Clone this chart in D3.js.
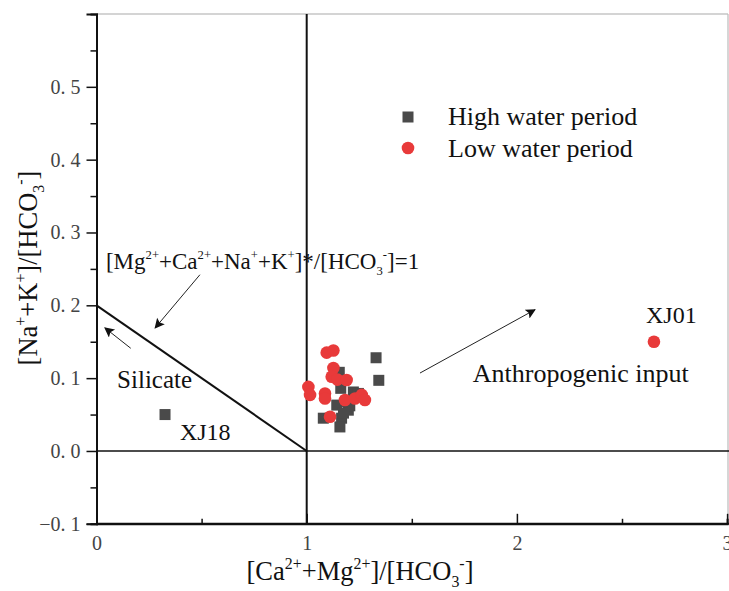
<!DOCTYPE html>
<html><head><meta charset="utf-8">
<script src="https://cdn.jsdelivr.net/npm/d3@7"></script>
<style>html,body{margin:0;padding:0;background:#fff;}svg{display:block;}</style>
</head><body>
<svg id="c" width="729" height="591"></svg>
<script>
// ---- data ----
const xTickValues = [0, 1, 2, 3];
const xMinorValues = [0.5, 1.5, 2.5];
const yTickValues = [-0.1, 0, 0.1, 0.2, 0.3, 0.4, 0.5];
const yMinorValues = [-0.05, 0.05, 0.15, 0.25, 0.35, 0.45, 0.55];
const seriesNames = ["High water period", "Low water period"];
const highX = [0.326, 1.330, 1.343, 1.155, 1.162, 1.222, 1.246, 1.143, 1.198, 1.079, 1.166, 1.158, 1.185, 1.205, 1.175];
const highY = [0.050, 0.128, 0.097, 0.108, 0.086, 0.081, 0.079, 0.063, 0.056, 0.045, 0.045, 0.033, 0.068, 0.062, 0.052];
const lowX = [1.095, 1.127, 1.127, 1.119, 1.146, 1.190, 1.008, 1.016, 1.087, 1.087, 1.182, 1.230, 1.262, 1.277, 1.111, 2.652];
const lowY = [0.135, 0.138, 0.114, 0.102, 0.098, 0.0975, 0.088, 0.077, 0.079, 0.072, 0.070, 0.072, 0.077, 0.070, 0.047, 0.150];
// reference lines: 1:1 line (0,0.2)-(1,0), x=1, y=0
const diagX = [0, 1], diagY = [0.2, 0];

const svg = d3.select("#c");
const FONT = "'Liberation Serif','Times New Roman',serif";
const x = d3.scaleLinear().domain([0, 3]).range([96.5, 727.1]);
const y = d3.scaleLinear().domain([-0.1, 0.6]).range([523.8, 14]);

function rich(g, px, py, parts, size, anchor, rotate, supRatio) {
  const sr = supRatio || 0.6;
  const t = g.append("text").attr("font-family", FONT).attr("font-size", size).attr("fill", "#111")
    .attr("text-anchor", anchor || "start");
  if (rotate) t.attr("transform", `translate(${px},${py}) rotate(${rotate})`);
  else t.attr("x", px).attr("y", py);
  let cur = 0;
  parts.forEach(([s, k]) => {
    const off = k === "sup" ? -0.42 * size : k === "sub" ? 0.28 * size : 0;
    t.append("tspan").attr("dy", off - cur).attr("font-size", k ? size * sr : size).text(s);
    cur = off;
  });
  return t;
}

// frame (top, right)
svg.append("line").attr("x1", x(0)).attr("x2", 728).attr("y1", y(0.6)).attr("y2", y(0.6)).attr("stroke", "#aaa").attr("stroke-width", 1.2);
svg.append("line").attr("x1", 728).attr("x2", 728).attr("y1", y(0.6)).attr("y2", y(-0.1)).attr("stroke", "#bbb").attr("stroke-width", 1.2);

// reference lines
svg.append("line").attr("x1", x(0)).attr("x2", 729).attr("y1", y(0)).attr("y2", y(0)).attr("stroke", "#111").attr("stroke-width", 1.6);
svg.append("line").attr("x1", x(1)).attr("x2", x(1)).attr("y1", y(0.6)).attr("y2", y(-0.1)).attr("stroke", "#111").attr("stroke-width", 2);
svg.append("line").attr("x1", x(diagX[0])).attr("y1", y(diagY[0])).attr("x2", x(diagX[1])).attr("y2", y(diagY[1])).attr("stroke", "#111").attr("stroke-width", 2);

// axes
const fmt = d => (d < 0 ? "\u22120. " : "0. ") + Math.round(Math.abs(d) * 10);
const gy = svg.append("g").attr("transform", `translate(${x(0)},0)`)
  .call(d3.axisLeft(y).tickValues(yTickValues).tickSize(10).tickPadding(6).tickFormat(fmt));
svg.append("g").attr("transform", `translate(${x(0)},0)`)
  .call(d3.axisLeft(y).tickValues(yMinorValues).tickSize(6).tickFormat(""));
const gx = svg.append("g").attr("transform", `translate(0,${y(-0.1)})`)
  .call(d3.axisBottom(x).tickValues(xTickValues).tickSize(-10).tickPadding(12).tickFormat(d3.format("d")));
svg.append("g").attr("transform", `translate(0,${y(-0.1)})`)
  .call(d3.axisBottom(x).tickValues(xMinorValues).tickSize(-5).tickFormat(""));
svg.selectAll(".domain").attr("stroke", "#111").attr("stroke-width", 2);
svg.selectAll(".tick line").attr("stroke", "#111").attr("stroke-width", 1.5);
svg.selectAll(".tick text").attr("font-family", FONT).attr("font-size", 20).attr("fill", "#444");
gx.select(".domain").attr("d", `M${x(0)},0H729`);

// axis titles
rich(svg, 37, 268, [["[Na"], ["+", "sup"], ["+K"], ["+", "sup"], ["]/[HCO"], ["3", "sub"], ["-", "sup"], ["]"]], 26.5, "middle", -90);
rich(svg, 360, 580, [["[Ca"], ["2+", "sup"], ["+Mg"], ["2+", "sup"], ["]/[HCO"], ["3", "sub"], ["-", "sup"], ["]"]], 26.5, "middle");

// annotations
const defs = svg.append("defs");
defs.append("marker").attr("id", "ah").attr("viewBox", "0 0 10 10").attr("refX", 9).attr("refY", 5)
  .attr("markerWidth", 12).attr("markerHeight", 10).attr("markerUnits", "userSpaceOnUse").attr("orient", "auto")
  .append("path").attr("d", "M0,0L10,5L0,10L2,5Z").attr("fill", "#111");
const arrows = [
  [0.492, 0.242, 0.279, 0.169],
  [0.163, 0.141, 0.040, 0.169],
  [1.539, 0.107, 2.086, 0.194]
];
arrows.forEach(a => svg.append("line").attr("x1", x(a[0])).attr("y1", y(a[1])).attr("x2", x(a[2])).attr("y2", y(a[3]))
  .attr("stroke", "#222").attr("stroke-width", 1).attr("marker-end", "url(#ah)"));

rich(svg, x(0.045), y(0.25), [["[Mg"], ["2+", "sup"], ["+Ca"], ["2+", "sup"], ["+Na"], ["+", "sup"], ["+K"], ["+", "sup"], ["]*/[HCO"], ["3", "sub"], ["-", "sup"], ["]=1"]], 23, null, null, 0.55);
rich(svg, x(0.098), y(0.0865), [["Silicate"]], 25);
rich(svg, x(0.397), y(0.015), [["XJ18"]], 24);
rich(svg, x(2.614), y(0.176), [["XJ01"]], 24);
rich(svg, x(1.79), y(0.095), [["Anthropogenic input"]], 26);

// points
const SQ = 11;
svg.append("g").selectAll("rect").data(highX.map((d, i) => [d, highY[i]])).join("rect")
  .attr("x", d => x(d[0]) - SQ / 2).attr("y", d => y(d[1]) - SQ / 2).attr("width", SQ).attr("height", SQ).attr("fill", "#4a4a4a");
svg.append("g").selectAll("circle").data(lowX.map((d, i) => [d, lowY[i]])).join("circle")
  .attr("cx", d => x(d[0])).attr("cy", d => y(d[1])).attr("r", 6.3).attr("fill", "#e83a3a");

// legend
const lg = svg.append("g");
lg.append("rect").attr("x", 408 - 5.5).attr("y", 117 - 5.5).attr("width", 11).attr("height", 11).attr("fill", "#4a4a4a");
lg.append("circle").attr("cx", 408).attr("cy", 148).attr("r", 6.3).attr("fill", "#e83a3a");
rich(lg, 448, 125, [[seriesNames[0]]], 26);
rich(lg, 448, 157, [[seriesNames[1]]], 26);
</script>
</body></html>
